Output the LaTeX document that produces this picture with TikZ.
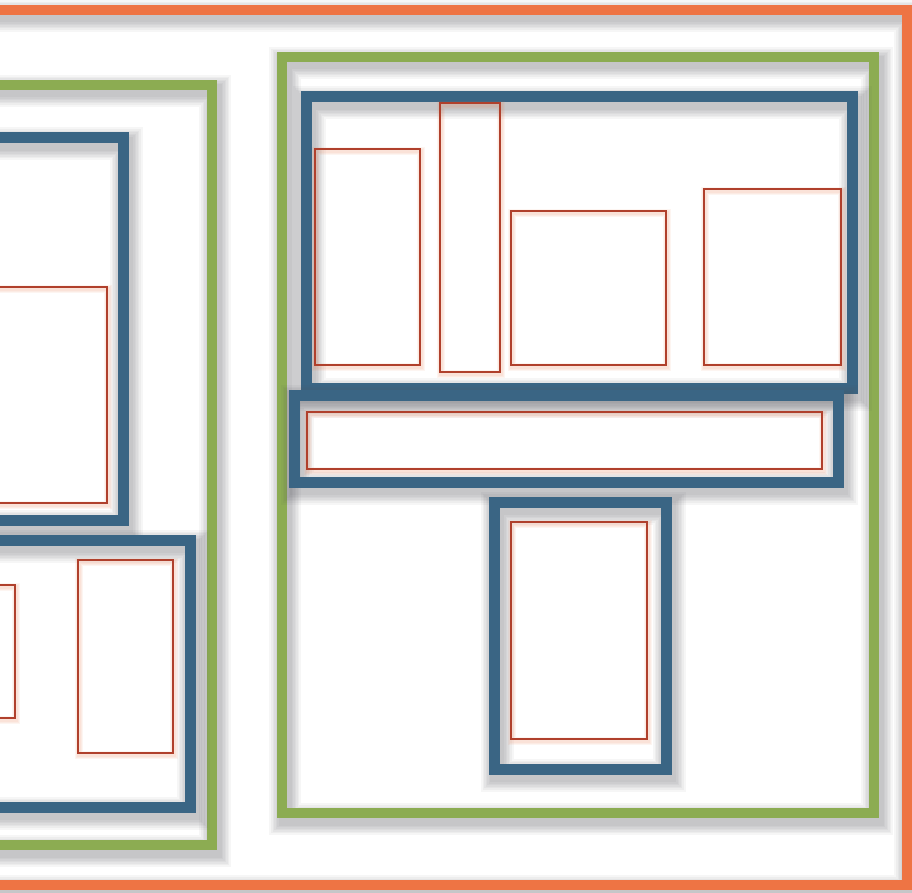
\documentclass[tikz,border=0pt]{standalone}
\usetikzlibrary{calc}
\definecolor{orangeB}{HTML}{EE7444}
\definecolor{greenB}{HTML}{8CAC52}
\definecolor{blueB}{HTML}{3A6584}
\definecolor{redB}{HTML}{B0402C}
\definecolor{shadowB}{HTML}{505058}
\newcommand\shbox[6]{%
  \foreach \w in {22,18,15,12,9,6,3}{%
    \draw[line width=#6 pt+\w pt, draw=shadowB, opacity=0.05, shift={(3,6)}] (#1,#2) rectangle (#3,#4);}%
  \draw[line width=#6 pt, draw=#5] (#1,#2) rectangle (#3,#4);%
}
\newcommand\redbox[4]{%
  \foreach \w in {6,4,2}{%
    \draw[line width=2pt+\w pt, draw=orangeB, opacity=0.07, shift={(1,2)}] (#1,#2) rectangle (#3,#4);}%
  \draw[line width=2pt, draw=redB] (#1,#2) rectangle (#3,#4);%
}
\begin{document}
\begin{tikzpicture}[x=1pt,y=-1pt]
\useasboundingbox[fill=white] (0,0) rectangle (912,893);
% outer frame
\shbox{-60}{10}{907}{885}{orangeB}{10}
% left group
\shbox{-60}{85}{212}{845}{greenB}{10}
\shbox{-60}{138}{123}{520}{blueB}{11}
\redbox{-60}{287}{107}{503}
\shbox{-60}{540}{190}{807}{blueB}{11}
\redbox{-60}{585}{15}{718}
\redbox{78}{560}{173}{753}
% right group
\shbox{282}{57}{874}{813}{greenB}{10}
\shbox{306}{97}{852}{388}{blueB}{11}
\redbox{315}{149}{420}{365}
\redbox{440}{103}{500}{372}
\redbox{511}{211}{666}{365}
\redbox{704}{189}{841}{365}
\shbox{294}{395}{838}{482}{blueB}{11}
\redbox{307}{412}{822}{469}
\shbox{494}{502}{666}{769}{blueB}{11}
\redbox{511}{522}{647}{739}
\end{tikzpicture}
\end{document}
